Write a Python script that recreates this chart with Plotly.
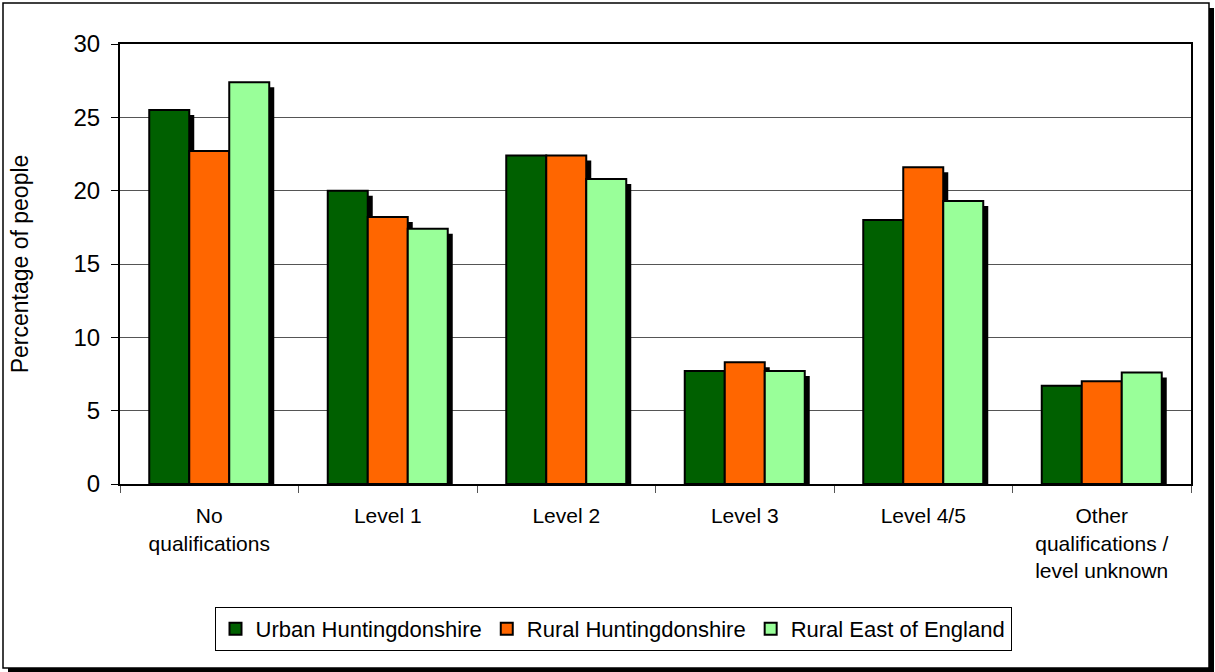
import plotly.graph_objects as go

categories = ["No<br>qualifications", "Level 1", "Level 2", "Level 3", "Level 4/5",
              "Other<br>qualifications /<br>level unknown"]
series_names = ["Urban Huntingdonshire", "Rural Huntingdonshire", "Rural East of England"]
urban_hunts = [25.5, 20.0, 22.4, 7.7, 18.0, 6.7]
rural_hunts = [22.7, 18.2, 22.4, 8.3, 21.6, 7.0]
rural_east = [27.4, 17.4, 20.8, 7.7, 19.3, 7.6]
y_ticks = [0, 5, 10, 15, 20, 25, 30]

colors = ["#006000", "#FF6600", "#99FF99"]
values = [urban_hunts, rural_hunts, rural_east]

W, H = 1215, 672
L, R, T, B = 120, 24, 44, 188
plot_w = W - L - R
plot_h = H - T - B
cat_px = plot_w / len(categories)
bar_w = 40 / cat_px
shadow_dx = 5 / cat_px
shadow_dy = 5 * 30 / plot_h
offsets = [-1.5 * bar_w, -0.5 * bar_w, 0.5 * bar_w]

FONT = "Liberation Sans, Arial, sans-serif"
fig = go.Figure()

# shadows
for vals, off in zip(values, offsets):
    fig.add_trace(go.Bar(
        x=categories, y=[max(v - shadow_dy, 0) for v in vals],
        width=bar_w, offset=off + shadow_dx,
        marker=dict(color="black", line=dict(width=0)),
        showlegend=False, hoverinfo="skip"))

for name, vals, col, off in zip(series_names, values, colors, offsets):
    fig.add_trace(go.Bar(
        x=categories, y=vals, name=name, width=bar_w, offset=off,
        marker=dict(color=col, line=dict(color="black", width=2))))


def px_x(p):
    return (p - L) / plot_w


def px_y(p):
    return (H - B - p) / plot_h


shapes = [
    # outer frame shadow
    dict(type="rect", xref="paper", yref="paper",
         x0=px_x(1209), x1=px_x(1214), y0=px_y(672), y1=px_y(8),
         fillcolor="black", line=dict(width=0), layer="below"),
    dict(type="rect", xref="paper", yref="paper",
         x0=px_x(8), x1=px_x(1214), y0=px_y(672), y1=px_y(668),
         fillcolor="black", line=dict(width=0), layer="below"),
    # outer frame
    dict(type="rect", xref="paper", yref="paper",
         x0=px_x(3), x1=px_x(1209), y0=px_y(668), y1=px_y(3),
         line=dict(color="black", width=1.5), fillcolor="rgba(0,0,0,0)", layer="below"),
]

fig.update_layout(
    width=W, height=H,
    margin=dict(l=L, r=R, t=T, b=B),
    paper_bgcolor="white", plot_bgcolor="white",
    barmode="overlay",
    font=dict(family=FONT, color="black", size=20),
    shapes=shapes,
    showlegend=True,
    legend=dict(orientation="h", x=px_x(613), y=px_y(607), xanchor="center", yanchor="top",
                bordercolor="black", borderwidth=1, bgcolor="white",
                font=dict(size=22, family=FONT), itemwidth=30, tracegroupgap=0),
    xaxis=dict(type="category", showline=True, linecolor="black", linewidth=2, mirror=True,
               ticks="outside", tickson="boundaries", ticklen=7, tickcolor="#555",
               tickfont=dict(size=21), showgrid=False, range=[-0.5, 5.5],
               ticklabelstandoff=12),
    yaxis=dict(range=[0, 30], tickvals=y_ticks, showline=True, linecolor="black", linewidth=2,
               mirror=True, ticks="outside", ticklen=7, tickcolor="black",
               gridcolor="#555", gridwidth=1, tickfont=dict(size=24),
               ticklabelstandoff=6,
               title=dict(text="Percentage of people", font=dict(size=23), standoff=38),
               zeroline=False),
)

fig.write_html("out.html", config={"displayModeBar": False},
               post_script="document.body.style.margin='0';document.body.style.overflow='hidden';")
